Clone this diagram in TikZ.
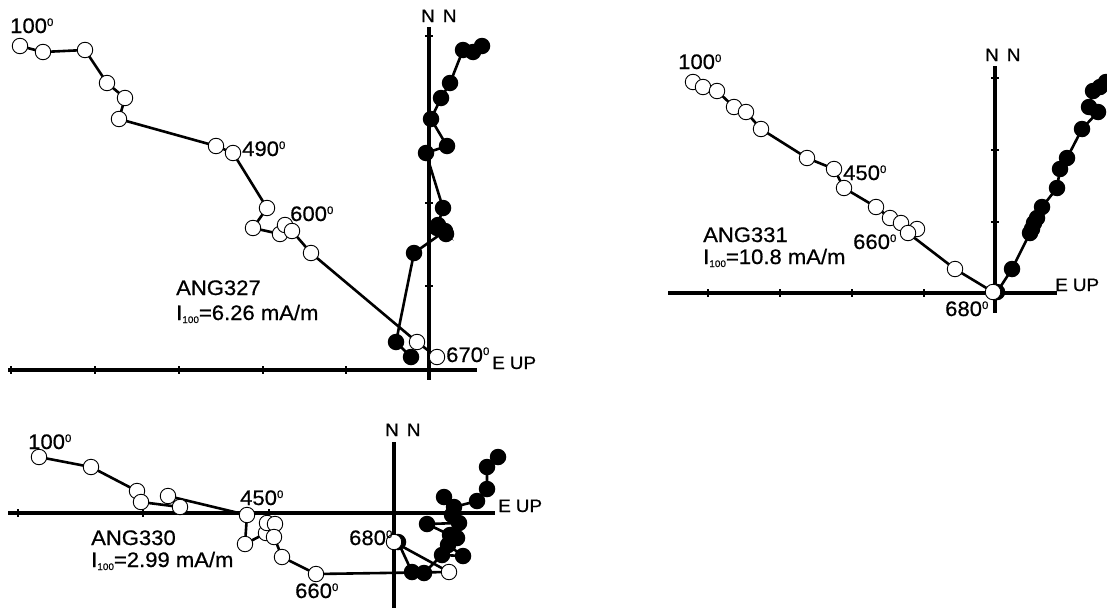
\documentclass[tikz,border=0pt]{standalone}
\usepackage{fontspec}
\setmainfont{Liberation Sans}[FakeStretch=1.05,FakeBold=0.6]
\newcommand\dg{\raisebox{7pt}{\fontsize{11}{11}\selectfont 0}}
\newcommand\sbx[1]{\raisebox{-3pt}{\fontsize{9.5}{9.5}\selectfont #1}}
\begin{document}
\begin{tikzpicture}[x=1pt,y=-1pt,
  axis/.style={line width=3.2pt},
  tickmark/.style={line width=2pt},
  dataline/.style={line width=2.6pt},
  opendot/.style={circle,draw,fill=white,line width=0.9pt,minimum size=15.5pt,inner sep=0pt},
  fulldot/.style={circle,fill=black,minimum size=16.5pt,inner sep=0pt},
  lbl/.style={anchor=base west,inner sep=0pt,font=\fontsize{21}{23}\selectfont},
  axlbl/.style={anchor=base west,inner sep=0pt,font=\fontsize{18}{20}\selectfont}]
\useasboundingbox (0,0) rectangle (1107,613);
\clip (0,0) rectangle (1107,613);

% ---------------- Panel 1 : ANG327 ----------------
\draw[axis] (8,370) -- (477,370);
\draw[axis] (429,27) -- (429,380);
\foreach \x in {11,95,179,263,346} \draw[tickmark] (\x,366) -- (\x,374);
\foreach \y in {36,119,203,286} \draw[tickmark] (425,\y) -- (433,\y);

\foreach \x/\y [count=\i] in {20/46,43/52,85/50,107/83,125/98,119/119,216/146,233/153,267/208,253/228,280/234,285/225,292/231,311/253,417/342,437/357}
  \coordinate (pa\i) at (\x,\y);
\foreach \x/\y [count=\i] in {482/46,473/52,463/50,450/83,441/98,431/119,447/146,426/153,443/208,437/228,446/234,438/225,445/231,414/253,396/342,411/357}
  \coordinate (qa\i) at (\x,\y);
\draw[dataline] (pa1) \foreach \i in {2,...,16} { -- (pa\i) };
\draw[dataline] (qa1) \foreach \i in {2,...,16} { -- (qa\i) };
\foreach \i in {1,...,16} \node[fulldot] (fa\i) at (qa\i) {};
\foreach \i in {1,...,16} \node[opendot] (oa\i) at (pa\i) {};

\node[lbl] (la1) at (10,33) {100\dg};
\node[lbl] (la2) at (242,156) {490\dg};
\node[lbl] (la3) at (290,221) {600\dg};
\node[lbl] (la4) at (446,362) {670\dg};
\node[axlbl] (la5) at (492,369) {E\hspace{5pt}UP};
\node[axlbl] (la6) at (421,22) {N\hspace{8pt}N};
\node[lbl] (la7) at (176,295) {ANG327};
\node[lbl] (la8) at (176,320) {I\sbx{100}=6.26 mA/m};

% ---------------- Panel 2 : ANG331 ----------------
\draw[axis] (668,293) -- (1057,293);
\draw[axis] (995,66) -- (995,313);
\foreach \x in {708,780,852,924} \draw[tickmark] (\x,289) -- (\x,297);
\foreach \y in {78,150,222} \draw[tickmark] (991,\y) -- (999,\y);

\foreach \x/\y [count=\i] in {693/82,703/87,717/91,734/107,746/112,761/129,807/158,834/169,844/188,876/207,890/218,901/223,917/229,908/233,955/269,993/292}
  \coordinate (pb\i) at (\x,\y);
\foreach \x/\y [count=\i] in {1106/82,1100/87,1093/91,1089/107,1098/112,1082/129,1067/158,1060/169,1057/188,1042/207,1037/218,1034/223,1032/229,1030/233,1012/269,997/292}
  \coordinate (qb\i) at (\x,\y);
\draw[dataline] (pb1) \foreach \i in {2,...,16} { -- (pb\i) };
\draw[dataline] (qb1) \foreach \i in {2,...,16} { -- (qb\i) };
\foreach \i in {1,...,16} \node[fulldot] (fb\i) at (qb\i) {};
\foreach \i in {1,...,16} \node[opendot] (ob\i) at (pb\i) {};

\node[lbl] (lb1) at (678,69) {100\dg};
\node[lbl] (lb2) at (843,180) {450\dg};
\node[lbl] (lb3) at (853,249) {660\dg};
\node[lbl] (lb4) at (945,316) {680\dg};
\node[axlbl] (lb5) at (1055,291) {E\hspace{5pt}UP};
\node[axlbl] (lb6) at (985,61) {N\hspace{8pt}N};
\node[lbl] (lb7) at (703,242) {ANG331};
\node[lbl] (lb8) at (703,264) {I\sbx{100}=10.8 mA/m};

% ---------------- Panel 3 : ANG330 ----------------
\draw[axis] (8,513) -- (495,513);
\draw[axis] (394,442) -- (394,608);
\foreach \x in {18,143,269} \draw[tickmark] (\x,509) -- (\x,517);

\foreach \x/\y [count=\i] in {39/457,91/467,137/491,141/502,180/507,168/496,247/515,245/544,266/533,267/523,275/524,274/537,282/557,316/574,449/572,394/542}
  \coordinate (pc\i) at (\x,\y);
\foreach \x/\y [count=\i] in {498/457,487/467,487/489,477/501,454/507,444/497,452/515,459/523,427/524,450/535,457/538,448/545,463/556,442/555,424/573,412/572,398/542}
  \coordinate (qc\i) at (\x,\y);
\draw[dataline] (pc1) \foreach \i in {2,...,16} { -- (pc\i) };
\draw[dataline] (qc1) \foreach \i in {2,...,17} { -- (qc\i) };
\foreach \i in {1,...,17} \node[fulldot] (fc\i) at (qc\i) {};
\foreach \i in {1,...,16} \node[opendot] (oc\i) at (pc\i) {};

\node[lbl] (lc1) at (28,449) {100\dg};
\node[lbl] (lc2) at (240,505) {450\dg};
\node[lbl] (lc3) at (295,598) {660\dg};
\node[lbl] (lc4) at (349,545) {680\dg};
\node[axlbl] (lc5) at (498,512) {E\hspace{5pt}UP};
\node[axlbl] (lc6) at (385,436) {N\hspace{8pt}N};
\node[lbl] (lc7) at (91,545) {ANG330};
\node[lbl] (lc8) at (91,567) {I\sbx{100}=2.99 mA/m};
\end{tikzpicture}
\end{document}
